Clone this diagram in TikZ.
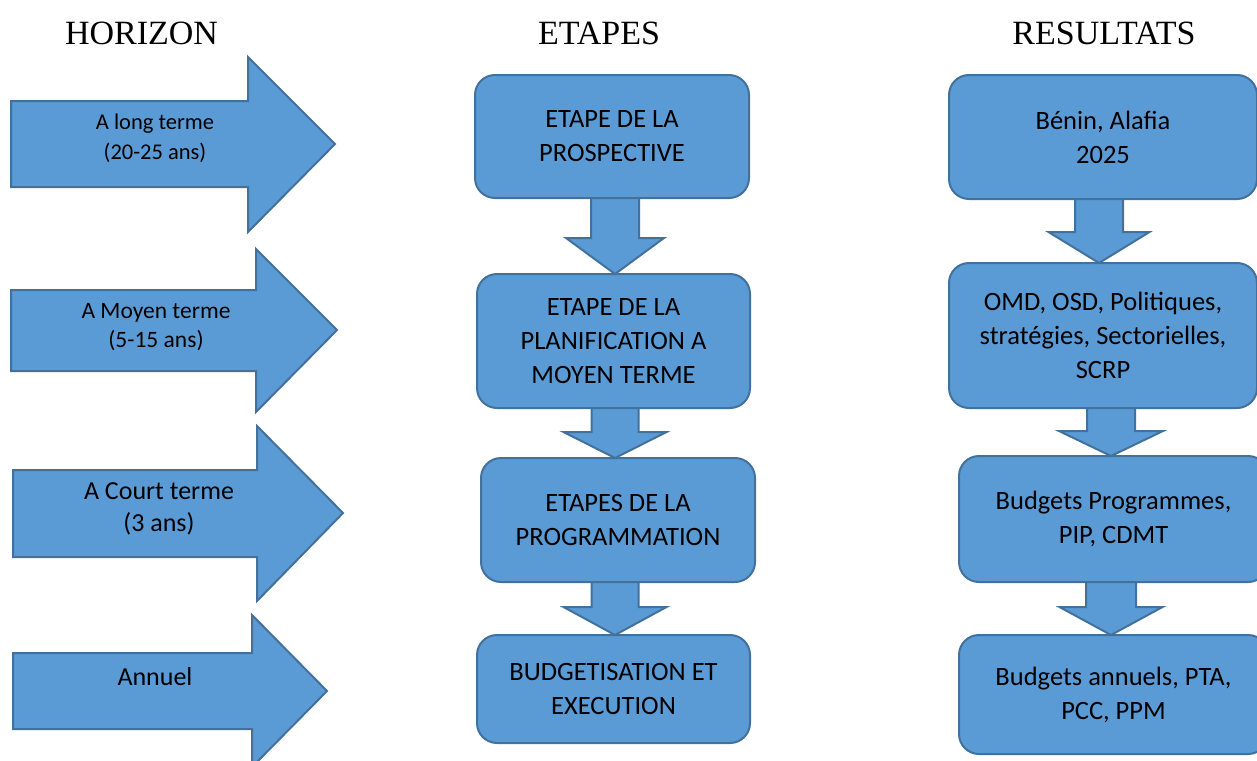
\documentclass[tikz,border=0pt]{standalone}
\usepackage{fontspec}
\setmainfont{Carlito}
\newfontfamily\hdrfont{Liberation Serif}
\usetikzlibrary{calc}
\definecolor{fillblue}{RGB}{91,155,213}
\definecolor{edgeblue}{RGB}{65,113,156}
% block arrow pointing down from node #1 to node #2
% #3 = x centre, #4 = head top offset below #1, #5 = shaft half width, #6 = head half width
\newcommand\dnarrow[6]{%
  \draw[blk] let \p1=(#1.south), \p2=(#2.north) in
    (#3pt-#5pt,\y1) -- (#3pt+#5pt,\y1) -- (#3pt+#5pt,\y1-#4pt) -- (#3pt+#6pt,\y1-#4pt)
    -- (#3pt,\y2) -- (#3pt-#6pt,\y1-#4pt) -- (#3pt-#5pt,\y1-#4pt) -- cycle;}
\begin{document}
\begin{tikzpicture}[x=1pt,y=-1pt,
  blk/.style={fill=fillblue,draw=edgeblue,line width=2pt,line join=miter},
  box/.style={blk,rounded corners=20pt,align=center,inner sep=0pt,outer sep=0pt,
              font=\fontsize{26.5}{34}\selectfont},
  hdr/.style={font=\hdrfont\fontsize{34}{40}\selectfont,inner sep=0pt},
  lbl/.style={align=center,inner sep=0pt}]
\useasboundingbox (0,0) rectangle (1257,760);
\clip (0,0) rectangle (1257,760);

% headers
\node[hdr] (hh) at (141.5,33) {HORIZON};
\node[hdr] (he) at (599,33) {ETAPES};
\node[hdr] (hr) at (1104,33) {RESULTATS};

% left horizon arrows
\draw[blk] (11,101) -- (248,101) -- (248,57) -- (335,144) -- (248,232) -- (248,187) -- (11,187) -- cycle;
\node[lbl,font=\fontsize{22.5}{30}\selectfont] (h1) at (155,138) {A long terme\\(20-25 ans)};

\draw[blk] (11,290) -- (256,290) -- (256,249) -- (337,330) -- (256,412) -- (256,371) -- (11,371) -- cycle;
\node[lbl,font=\fontsize{23.5}{29}\selectfont] (h2) at (156,327.5) {A Moyen terme\\(5-15 ans)};

\draw[blk] (13,470) -- (257,470) -- (257,426) -- (343,513) -- (257,601) -- (257,557) -- (13,557) -- cycle;
\node[lbl,font=\fontsize{26}{32}\selectfont] (h3) at (159,509) {A Court terme\\(3 ans)};

\draw[blk] (13,653) -- (252,653) -- (252,615) -- (327,691) -- (252,767) -- (252,729) -- (13,729) -- cycle;
\node[lbl,font=\fontsize{26}{32}\selectfont] (h4) at (155,677) {Annuel};

% middle column
\node[box,minimum width=274pt,minimum height=123pt] (m1) at (612,136.5) {ETAPE DE LA\\PROSPECTIVE};
\node[box,minimum width=273pt,minimum height=134pt] (m2) at (613.5,341) {ETAPE DE LA\\PLANIFICATION A\\MOYEN TERME};
\node[box,minimum width=274pt,minimum height=124pt] (m3) at (618,520) {ETAPES DE LA\\PROGRAMMATION};
\node[box,minimum width=273pt,minimum height=108pt] (m4) at (613.5,689) {BUDGETISATION ET\\EXECUTION};

\dnarrow{m1}{m2}{615}{40}{24}{49}
\dnarrow{m2}{m3}{615}{24}{23.5}{51.5}
\dnarrow{m3}{m4}{615}{25}{23.5}{51.5}

% right column
\node[box,minimum width=308pt,minimum height=124pt] (r1) at (1103,137) {B\'enin, Alafia\\2025};
\node[box,minimum width=308pt,minimum height=145pt] (r2) at (1103,335.5) {OMD, OSD, Politiques,\\strat\'egies, Sectorielles,\\SCRP};
\node[box,minimum width=309pt,minimum height=126pt] (r3) at (1113.5,519) {Budgets Programmes,\\PIP, CDMT};
\node[box,minimum width=309pt,minimum height=119pt] (r4) at (1113.5,694.5) {Budgets annuels, PTA,\\PCC, PPM};

\dnarrow{r1}{r2}{1099}{33}{24}{50.5}
\dnarrow{r2}{r3}{1111}{23}{24}{52}
\dnarrow{r3}{r4}{1111}{25}{25}{51.5}
\end{tikzpicture}
\end{document}
